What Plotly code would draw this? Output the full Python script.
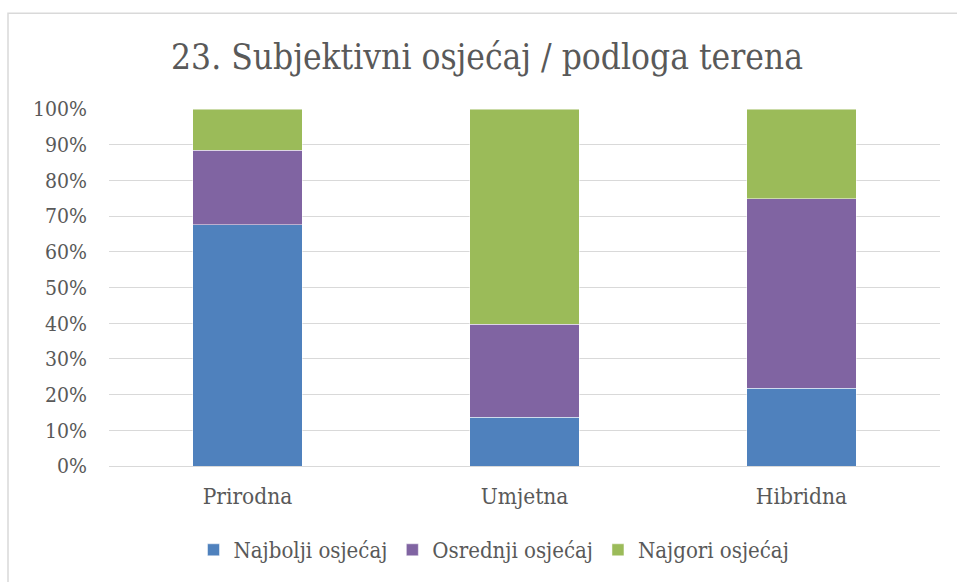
import plotly.graph_objects as go

categories = ["Prirodna", "Umjetna", "Hibridna"]
series_names = ["Najbolji osjećaj", "Osrednji osjećaj", "Najgori osjećaj"]
najbolji = [67.6, 13.7, 21.8]
osrednji = [20.9, 26.0, 53.1]
najgori = [11.5, 60.3, 25.1]
tick_values = [0, 10, 20, 30, 40, 50, 60, 70, 80, 90, 100]
tick_labels = ["0%", "10%", "20%", "30%", "40%", "50%", "60%", "70%", "80%", "90%", "100%"]

colors = ["#4F81BD", "#8064A2", "#9BBB59"]
FONT = "DejaVu Serif Condensed, Liberation Serif, serif"
TXT = "#595959"

W, H = 957, 582
L, R, T, B = 109, 940, 109, 467

fig = go.Figure()
for name, vals, c in zip(series_names, [najbolji, osrednji, najgori], colors):
    fig.add_trace(go.Bar(
        x=categories, y=vals, name=name,
        marker=dict(color=c, line=dict(color="rgba(255,255,255,0.6)", width=0.8)),
    ))

def px(x):
    return (x - L) / (R - L)

def py(y):
    return (B - y) / (B - T)

fig.update_layout(
    width=W, height=H,
    barmode="stack",
    bargap=0.603,
    margin=dict(l=L, r=W - R, t=T, b=H - B),
    paper_bgcolor="white",
    plot_bgcolor="white",
    font=dict(family=FONT, color=TXT, size=20),
    title=dict(
        text="23. Subjektivni osjećaj / podloga terena",
        font=dict(family=FONT, size=35, color=TXT),
        x=487 / W, xanchor="center",
        y=1 - 57 / H, yanchor="middle",
    ),
    xaxis=dict(
        showline=False, showgrid=False, ticks="",
        tickfont=dict(size=22.5, color=TXT, family=FONT),
        ticklabelstandoff=14,
    ),
    yaxis=dict(
        range=[0, 100],
        tickvals=tick_values, ticktext=tick_labels,
        showgrid=True, gridcolor="#D9D9D9", gridwidth=1.3,
        zeroline=True, zerolinecolor="#D9D9D9", zerolinewidth=1.3,
        showline=False, ticks="",
        ticklabelstandoff=21,
        tickfont=dict(size=21, color=TXT, family=FONT),
    ),
    legend=dict(
        orientation="h",
        x=px(494), xanchor="center",
        y=py(550), yanchor="middle",
        font=dict(size=22, color=TXT, family=FONT),
        traceorder="normal",
        itemwidth=30,
        tracegroupgap=0,
    ),
    shapes=[dict(
        type="rect", xref="paper", yref="paper",
        x0=px(8), x1=px(1000), y0=py(700), y1=py(13),
        line=dict(color="#D9D9D9", width=1.5),
        fillcolor="rgba(0,0,0,0)", layer="below",
    )],
)

fig.write_html(
    "out.html",
    config={"displayModeBar": False},
    post_script="document.body.style.margin='0px';document.body.style.overflow='hidden';",
)
